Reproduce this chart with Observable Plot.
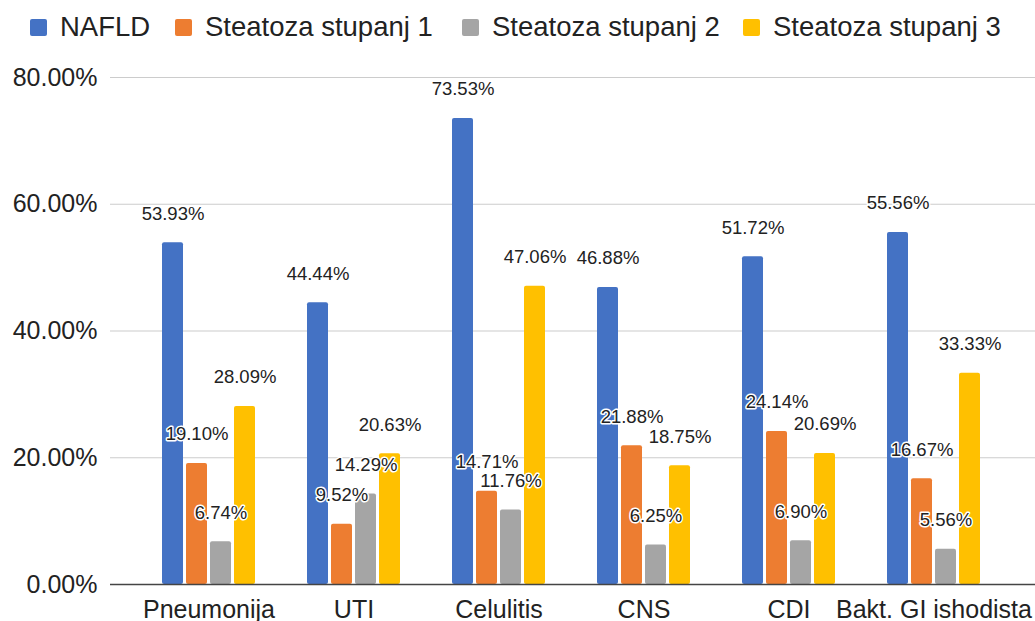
<!DOCTYPE html>
<html>
<head>
<meta charset="utf-8">
<script src="https://cdn.jsdelivr.net/npm/d3@7"></script>
<script src="https://cdn.jsdelivr.net/npm/@observablehq/plot@0.6"></script>
<style>
  html, body { margin: 0; padding: 0; background: #fff; }
  body { width: 1035px; height: 621px; overflow: hidden; font-family: "Liberation Sans", Arial, sans-serif; color: #222; }
  #legend { position: relative; height: 50px; width: 1035px; }
  .item { position: absolute; top: 10px; height: 34px; display: flex; align-items: center; font-size: 27.5px; line-height: 1; white-space: nowrap; }
  .sw { width: 17px; height: 17px; border-radius: 2px; margin-right: 13px; flex: none; }
  #chart svg { display: block; }
</style>
</head>
<body>
<div id="legend"></div>
<div id="chart"></div>
<script>
const categories = ["Pneumonija", "UTI", "Celulitis", "CNS", "CDI", "Bakt. GI ishodista"];
const seriesNames = ["NAFLD", "Steatoza stupanj 1", "Steatoza stupanj 2", "Steatoza stupanj 3"];
const nafld = [53.93, 44.44, 73.53, 46.88, 51.72, 55.56];
const stupanj1 = [19.10, 9.52, 14.71, 21.88, 24.14, 16.67];
const stupanj2 = [6.74, 14.29, 11.76, 6.25, 6.90, 5.56];
const stupanj3 = [28.09, 20.63, 47.06, 18.75, 20.69, 33.33];
const yTicks = [0, 20, 40, 60, 80];

const colors = ["#4472C4", "#ED7D31", "#A5A5A5", "#FFC000"];
const legendLeft = [30, 175, 462, 743];

// legend
const legend = document.getElementById("legend");
seriesNames.forEach((name, i) => {
  const it = document.createElement("div");
  it.className = "item";
  it.style.left = legendLeft[i] + "px";
  const sw = document.createElement("div");
  sw.className = "sw";
  sw.style.background = colors[i];
  const tx = document.createElement("span");
  tx.textContent = name;
  it.appendChild(sw); it.appendChild(tx);
  legend.appendChild(it);
});

const seriesValues = [nafld, stupanj1, stupanj2, stupanj3];
const bandW = 145, barW = 21, pitch = 24;
const marks = [
  Plot.ruleY(yTicks.filter(d => d > 0), {stroke: "#cccccc", strokeWidth: 1.2}),
];
seriesValues.forEach((vals, i) => {
  const data = categories.map((c, j) => ({cat: c, value: vals[j]}));
  const off = -1.5 * pitch + i * pitch;
  marks.push(Plot.barY(data, {
    x: "cat", y: "value", fill: colors[i], rx: 2,
    insetLeft: bandW / 2 + off - barW / 2,
    insetRight: bandW / 2 - off - barW / 2
  }));
});
seriesValues.forEach((vals, i) => {
  const data = categories.map((c, j) => ({cat: c, value: vals[j]}));
  const off = -1.5 * pitch + i * pitch;
  marks.push(Plot.text(data, {
    x: "cat", y: "value", text: d => d.value.toFixed(2) + "%",
    dx: off, dy: -29, fontSize: 18.5, fill: "#222",
    stroke: "white", strokeWidth: 3, lineAnchor: "middle", textAnchor: "middle"
  }));
});
marks.push(Plot.ruleY([0], {stroke: "#444", strokeWidth: 1.3}));
marks.push(Plot.axisY({ticks: yTicks, tickFormat: d => d.toFixed(2) + "%", tickSize: 0, tickPadding: 13, fontSize: 25}));
marks.push(Plot.axisX({tickSize: 0, tickPadding: 16, fontSize: 25}));

const chart = Plot.plot({
  width: 1035,
  height: 571,
  marginLeft: 110,
  marginRight: 0,
  marginTop: 27,
  marginBottom: 37,
  style: {fontFamily: "'Liberation Sans', Arial, sans-serif", fontSize: "25px", color: "#222", background: "#fff", overflow: "visible"},
  x: {domain: categories, range: [136, 1006], padding: 0, label: null},
  y: {domain: [0, 80], label: null},
  marks
});
document.getElementById("chart").appendChild(chart);
</script>
</body>
</html>
